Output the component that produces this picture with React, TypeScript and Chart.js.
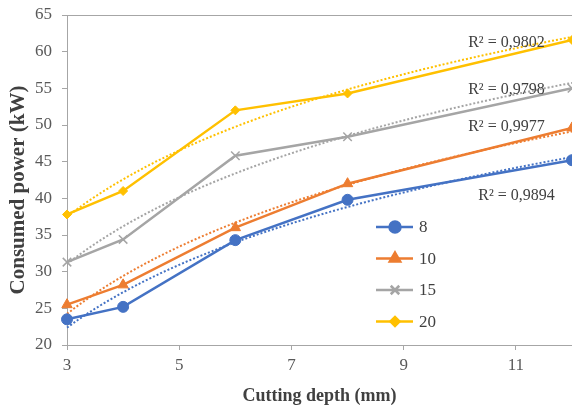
import React, { useEffect, useRef } from "react";
import { Chart, registerables } from "chart.js";
import { drawPoint } from "chart.js/helpers";

Chart.register(...registerables);

const depths = [3, 4, 6, 8, 12];
const seriesNames = ["8", "10", "15", "20"];
const power8 = [23.5, 25.2, 34.3, 39.8, 45.2];
const power10 = [25.5, 28.2, 36.0, 42.0, 49.6];
const power15 = [31.3, 34.4, 45.8, 48.4, 55.0];
const power20 = [37.8, 41.0, 52.0, 54.3, 61.6];
const r2Labels = ["R² = 0,9894", "R² = 0,9977", "R² = 0,9798", "R² = 0,9802"];
const xTickValues = [3, 5, 7, 9, 11];
const yMin = 20;
const yMax = 65;
const yStep = 5;
const xTitle = "Cutting depth (mm)";
const yTitle = "Consumed power (kW)";

const SERIF = "'Liberation Serif', 'DejaVu Serif', serif";
const colors = ["#4472C4", "#ED7D31", "#A5A5A5", "#FFC000"];
const pointStyles = ["circle", "triangle", "crossRot", "rectRot"];
const pointRadii = [5.5, 6, 6, 4.5];
// label anchor positions in data units (x, y) – left aligned
const r2Anchors = [
  [10.33, 40.4],
  [10.15, 49.7],
  [10.15, 54.8],
  [10.15, 61.2],
];

function logFit(xs: number[], ys: number[]) {
  const lx = xs.map((v) => Math.log(v));
  const n = xs.length;
  const mx = lx.reduce((a, b) => a + b, 0) / n;
  const my = ys.reduce((a, b) => a + b, 0) / n;
  let sxy = 0;
  let sxx = 0;
  for (let i = 0; i < n; i++) {
    sxy += (lx[i] - mx) * (ys[i] - my);
    sxx += (lx[i] - mx) * (lx[i] - mx);
  }
  const b = sxy / sxx;
  const a = my - b * mx;
  return { a, b };
}

export default function App() {
  const ref = useRef<HTMLCanvasElement | null>(null);

  useEffect(() => {
    document.body.style.margin = "0";
    const all = [power8, power10, power15, power20];
    const datasets: any[] = [];
    all.forEach((vals, i) => {
      const { a, b } = logFit(depths, vals);
      const pts: { x: number; y: number }[] = [];
      const lo = depths[0];
      const hi = depths[depths.length - 1];
      const steps = 90;
      for (let k = 0; k <= steps; k++) {
        const x = lo + ((hi - lo) * k) / steps;
        pts.push({ x, y: a + b * Math.log(x) });
      }
      datasets.push({
        label: "trend" + seriesNames[i],
        data: pts,
        borderColor: colors[i],
        borderWidth: 2,
        borderDash: [2, 2],
        pointRadius: 0,
        fill: false,
        clip: false,
        order: 2,
      });
    });
    all.forEach((vals, i) => {
      datasets.push({
        label: seriesNames[i],
        data: depths.map((d, k) => ({ x: d, y: vals[k] })),
        borderColor: colors[i],
        backgroundColor: colors[i],
        borderWidth: 2.5,
        pointStyle: pointStyles[i],
        pointRadius: pointRadii[i],
        pointBorderWidth: i === 2 ? 1.5 : 1,
        pointBorderColor: colors[i],
        pointBackgroundColor: colors[i],
        fill: false,
        clip: false,
        order: 1,
      });
    });

    const overlay = {
      id: "overlay",
      afterDatasetsDraw(chart: any) {
        const ctx = chart.ctx;
        const xs = chart.scales.x;
        const ys = chart.scales.y;
        ctx.save();
        // y axis title
        ctx.save();
        ctx.translate(18.5, (chart.chartArea.top + chart.chartArea.bottom) / 2 + 10);
        ctx.rotate(-Math.PI / 2);
        ctx.font = "bold 21px " + SERIF;
        ctx.fillStyle = "#404040";
        ctx.textAlign = "center";
        ctx.textBaseline = "middle";
        ctx.fillText(yTitle, 0, 0);
        ctx.restore();

        ctx.font = "16px " + SERIF;
        ctx.fillStyle = "#404040";
        ctx.textAlign = "left";
        ctx.textBaseline = "middle";
        r2Labels.forEach((t, i) => {
          ctx.fillText(t, xs.getPixelForValue(r2Anchors[i][0]), ys.getPixelForValue(r2Anchors[i][1]));
        });
        // legend
        const lx = chart.chartArea.left + 309;
        const ly0 = chart.chartArea.top + 212;
        const gap = 31.5;
        seriesNames.forEach((name, i) => {
          const y = ly0 + i * gap;
          ctx.strokeStyle = colors[i];
          ctx.lineWidth = 2.5;
          ctx.setLineDash([]);
          ctx.beginPath();
          ctx.moveTo(lx, y);
          ctx.lineTo(lx + 37, y);
          ctx.stroke();
          ctx.fillStyle = colors[i];
          drawPoint(
            ctx,
            {
              pointStyle: pointStyles[i],
              radius: pointRadii[i],
              borderWidth: i === 2 ? 1.5 : 1,
              rotation: 0,
            } as any,
            lx + 19,
            y
          );
          ctx.fillStyle = "#404040";
          ctx.font = "17px " + SERIF;
          ctx.textAlign = "left";
          ctx.textBaseline = "middle";
          ctx.fillText(name, lx + 43, y + 1);
        });
        ctx.restore();
      },
    };

    const chart = new Chart(ref.current as HTMLCanvasElement, {
      type: "line",
      data: { datasets },
      options: {
        animation: false,
        responsive: false,
        devicePixelRatio: 1,
        layout: { autoPadding: false, padding: { top: 15, right: 0, left: 0, bottom: 0 } },
        plugins: { legend: { display: false }, tooltip: { enabled: false } },
        scales: {
          x: {
            type: "linear",
            min: 3,
            max: 12,
            afterBuildTicks: (s: any) => {
              s.ticks = xTickValues.map((v) => ({ value: v }));
            },
            afterFit: (s: any) => {
              s.height = 62;
              s.paddingRight = 0;
              s.paddingLeft = 0;
            },
            grid: {
              drawOnChartArea: false,
              drawTicks: true,
              tickLength: 5,
              tickColor: "#a6a6a6",
              color: "#a6a6a6",
            },
            border: { color: "#a6a6a6", width: 1 },
            ticks: {
              font: { family: SERIF, size: 17 },
              color: "#595959",
              padding: 5,
              maxRotation: 0,
            },
            title: {
              display: true,
              text: xTitle,
              font: { family: SERIF, size: 18, weight: "bold" },
              color: "#404040",
              padding: { top: 4, bottom: 0 },
            },
          },
          y: {
            min: yMin,
            max: yMax,
            afterFit: (s: any) => {
              s.width = 67;
              s.paddingTop = 0;
              s.paddingBottom = 0;
            },
            grid: {
              drawTicks: true,
              tickLength: 5,
              tickColor: "#a6a6a6",
              color: (c: any) => (c.tick && c.tick.value === yMax ? "#a6a6a6" : "rgba(0,0,0,0)"),
            },
            border: { color: "#a6a6a6", width: 1 },
            ticks: {
              stepSize: yStep,
              font: { family: SERIF, size: 17 },
              color: "#595959",
              padding: 10,
            },
            title: { display: false },
          },
        },
      } as any,
      plugins: [overlay],
    });
    return () => chart.destroy();
  }, []);

  return (
    <div style={{ width: 572, height: 407, position: "relative", background: "#fff" }}>
      <canvas ref={ref} width={572} height={407} style={{ display: "block" }} />
    </div>
  );
}
